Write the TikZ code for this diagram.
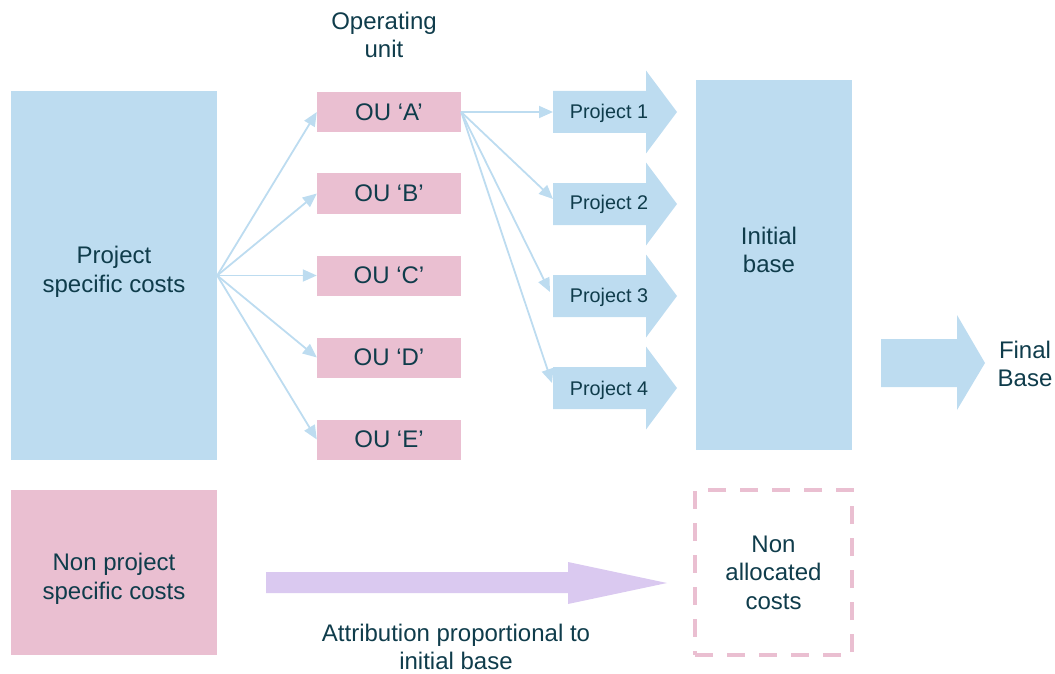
\documentclass[tikz,border=0pt]{standalone}
\usepackage{fontspec}
\setmainfont{Liberation Sans}
\usetikzlibrary{arrows.meta}
\definecolor{lblue}{RGB}{189,220,240}
\definecolor{lpink}{RGB}{234,191,209}
\definecolor{lav}{RGB}{218,201,240}
\definecolor{txt}{RGB}{15,60,75}
\begin{document}
\begin{tikzpicture}[x=1pt,y=-1pt,
  lbl/.style={text=txt,font=\fontsize{24}{28.5}\selectfont,align=center,inner sep=0pt},
  plbl/.style={text=txt,font=\fontsize{19.8}{24}\selectfont,align=center,inner sep=0pt},
  bluebox/.style={lbl,fill=lblue},
  pinkbox/.style={lbl,fill=lpink},
  dashbox/.style={lbl,draw=lpink,line width=4pt,dash pattern=on 18pt off 14pt},
  conn/.style={draw=lblue,line width=1.8pt,-{Triangle[length=14pt,width=12pt]}}]
\useasboundingbox (0,0) rectangle (1055,674);

% left boxes
\node[bluebox,minimum width=206pt,minimum height=369pt] (psc) at (114,275.5) {};
\node[lbl] (psct) at (114,272) {Project\\specific costs};
\node[pinkbox,minimum width=206pt,minimum height=165pt] (npsc) at (114,572.5) {};
\node[lbl] (npsct) at (114,579) {Non project\\specific costs};

% operating units
\node[lbl] (outitle) at (384,35) {Operating\\unit};
\node[pinkbox,minimum width=144pt,minimum height=40pt] (ouA) at (389,112) {OU ‘A’};
\node[pinkbox,minimum width=144pt,minimum height=40pt] (ouB) at (389,193.5) {OU ‘B’};
\node[pinkbox,minimum width=144pt,minimum height=40pt] (ouC) at (389,275.5) {OU ‘C’};
\node[pinkbox,minimum width=144pt,minimum height=40pt] (ouD) at (389,357.5) {OU ‘D’};
\node[pinkbox,minimum width=144pt,minimum height=40pt] (ouE) at (389,439.5) {OU ‘E’};

% project arrows
\foreach \c in {112,204,296,388}{
  \fill[lblue] (553,\c-21) -- (646,\c-21) -- (646,\c-41.5) -- (677,\c) -- (646,\c+41.5) -- (646,\c+21) -- (553,\c+21) -- cycle;
}
\node[plbl] (p1) at (609,113) {Project 1};
\node[plbl] (p2) at (609,204) {Project 2};
\node[plbl] (p3) at (609,297) {Project 3};
\node[plbl] (p4) at (609,390) {Project 4};
\coordinate (p1w) at (553,112);
\coordinate (p2w) at (553,199);
\coordinate (p3w) at (550,292);
\coordinate (p4w) at (552,383);

% initial base
\node[bluebox,minimum width=156pt,minimum height=370pt] (ib) at (774,265) {};
\node[lbl] (ibt) at (769,250) {Initial\\base};

% final base arrow
\fill[lblue] (881,339) -- (957,339) -- (957,315) -- (985,363) -- (957,410) -- (957,387) -- (881,387) -- cycle;
\node[lbl] (fb) at (1025,364) {Final\\Base};

% non allocated
\node[dashbox,minimum width=157pt,minimum height=165pt] (nac) at (773.5,572.5) {Non\\allocated\\costs};

% attribution arrow
\fill[lav] (266,572) -- (568,572) -- (568,562) -- (667,583) -- (568,604) -- (568,593) -- (266,593) -- cycle;
\node[lbl] (attr) at (456,647) {Attribution proportional to\\initial base};

% connectors
\draw[conn] (psc.east) -- (ouA.west);
\draw[conn] (psc.east) -- (ouB.west);
\draw[conn] (psc.east) -- (ouC.west);
\draw[conn] (psc.east) -- (ouD.west);
\draw[conn] (psc.east) -- (ouE.west);
\draw[conn] (ouA.east) -- (p1w);
\draw[conn] (ouA.east) -- (p2w);
\draw[conn] (ouA.east) -- (p3w);
\draw[conn] (ouA.east) -- (p4w);
\end{tikzpicture}
\end{document}
